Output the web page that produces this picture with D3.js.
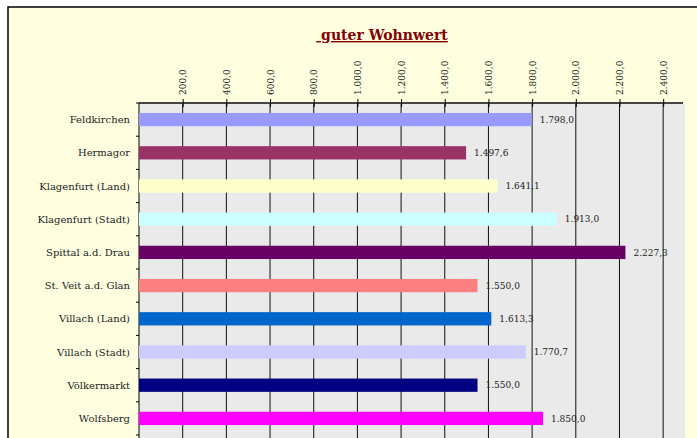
<!DOCTYPE html>
<html>
<head>
<meta charset="utf-8">
<script src="https://cdn.jsdelivr.net/npm/d3@7"></script>
<style>
  body { margin: 0; background: #fff; }
  text { font-family: "DejaVu Serif", serif; }
</style>
</head>
<body>
<div class="chart"></div>
<script>
var regions = ['Feldkirchen', 'Hermagor', 'Klagenfurt (Land)', 'Klagenfurt (Stadt)', 'Spittal a.d. Drau',
    'St. Veit a.d. Glan', 'Villach (Land)', 'Villach (Stadt)', 'Völkermarkt', 'Wolfsberg'];
var values = [1798.0, 1497.6, 1641.1, 1913.0, 2227.3, 1550.0, 1613.3, 1770.7, 1550.0, 1850.0];
var colors = ['#9999ff', '#993366', '#ffffcc', '#ccffff', '#660066', '#ff8080', '#0066cc', '#ccccff', '#000080', '#ff00ff'];
var ticks = [200, 400, 600, 800, 1000, 1200, 1400, 1600, 1800, 2000, 2200, 2400];
var title = ' guter Wohnwert';

var W = 697, H = 438;
var margin = {top: 103, left: 139, right: 12, bottom: 3},
    width = W - margin.left - margin.right,
    height = H - margin.top - margin.bottom;

var de = d3.formatLocale({decimal: ',', thousands: '.', grouping: [3], currency: ['', '']});
var fmt = de.format(',.1f');

var svg = d3.select('div.chart')
    .append('svg')
        .attr('width', W)
        .attr('height', H);

// chart frame
svg.append('rect')
    .attr('x', 8).attr('y', 7)
    .attr('width', W + 20).attr('height', H + 20)
    .attr('fill', '#ffffe0')
    .attr('stroke', '#000')
    .attr('stroke-width', 1.5);

svg.append('text')
    .attr('x', 382)
    .attr('y', 40)
    .attr('text-anchor', 'middle')
    .style('font-size', '14px')
    .style('font-weight', 'bold')
    .style('fill', '#800000')
    .style('text-decoration', 'underline')
    .style('white-space', 'pre')
    .text(title);

var g = svg.append('g')
    .attr('transform', 'translate(' + margin.left + ',' + margin.top + ')');

var x = d3.scaleLinear()
    .domain([0, 2500])
    .range([0, width]);

var y = d3.scaleBand()
    .domain(regions)
    .range([0, height])
    .paddingInner(0.6)
    .paddingOuter(0.3);

g.append('rect')
    .attr('width', width)
    .attr('height', height + 10)
    .attr('fill', '#eaeaea');

// gridlines
g.selectAll('.grid')
    .data(ticks)
    .enter()
    .append('line')
        .attr('class', 'grid')
        .attr('x1', (d) => x(d)).attr('x2', (d) => x(d))
        .attr('y1', 0).attr('y2', height + 10)
        .attr('stroke', '#111')
        .attr('stroke-width', 1);

// top axis
var xAxis = g.append('g')
    .call(d3.axisTop(x).tickValues(ticks).tickSize(4).tickSizeOuter(0).tickFormat(fmt));
xAxis.select('.domain')
    .attr('d', 'M0,0H' + (width - 2))
    .attr('stroke', '#444')
    .attr('stroke-width', 2);
xAxis.selectAll('.tick line')
    .attr('y1', 4)
    .attr('y2', -4)
    .attr('stroke', '#000');
xAxis.selectAll('.tick text')
    .style('font-size', '9px')
    .style('fill', '#222')
    .attr('text-anchor', 'start')
    .attr('transform', 'rotate(-90)')
    .attr('x', 8)
    .attr('y', 0)
    .attr('dy', '0.35em');

// left axis, ticks on row boundaries
var leftAxis = g.append('g');
leftAxis.append('line')
    .attr('x1', 0).attr('x2', 0)
    .attr('y1', 0).attr('y2', height + 10)
    .attr('stroke', '#000')
    .attr('stroke-width', 1);
leftAxis.selectAll('.rowtick')
    .data(d3.range(regions.length + 1))
    .enter()
    .append('line')
        .attr('x1', -3).attr('x2', 0)
        .attr('y1', (i) => i * y.step()).attr('y2', (i) => i * y.step())
        .attr('stroke', '#000');
leftAxis.selectAll('.label')
    .data(regions)
    .enter()
    .append('text')
        .attr('x', -9)
        .attr('y', (d) => y(d) + y.bandwidth() / 2)
        .attr('dy', '0.35em')
        .attr('text-anchor', 'end')
        .style('font-size', '10px')
        .style('fill', '#222')
        .text((d) => d);

// bars
g.selectAll('.bar')
    .data(regions)
    .enter()
    .append('rect')
        .attr('class', 'bar')
        .attr('x', 0)
        .attr('y', (d) => y(d))
        .attr('width', (d, i) => x(values[i]))
        .attr('height', y.bandwidth())
        .attr('fill', (d, i) => colors[i]);

g.selectAll('.val')
    .data(regions)
    .enter()
    .append('text')
        .attr('x', (d, i) => x(values[i]) + 8)
        .attr('y', (d) => y(d) + y.bandwidth() / 2)
        .attr('dy', '0.35em')
        .style('font-size', '9px')
        .style('fill', '#222')
        .text((d, i) => fmt(values[i]));
</script>
</body>
</html>
